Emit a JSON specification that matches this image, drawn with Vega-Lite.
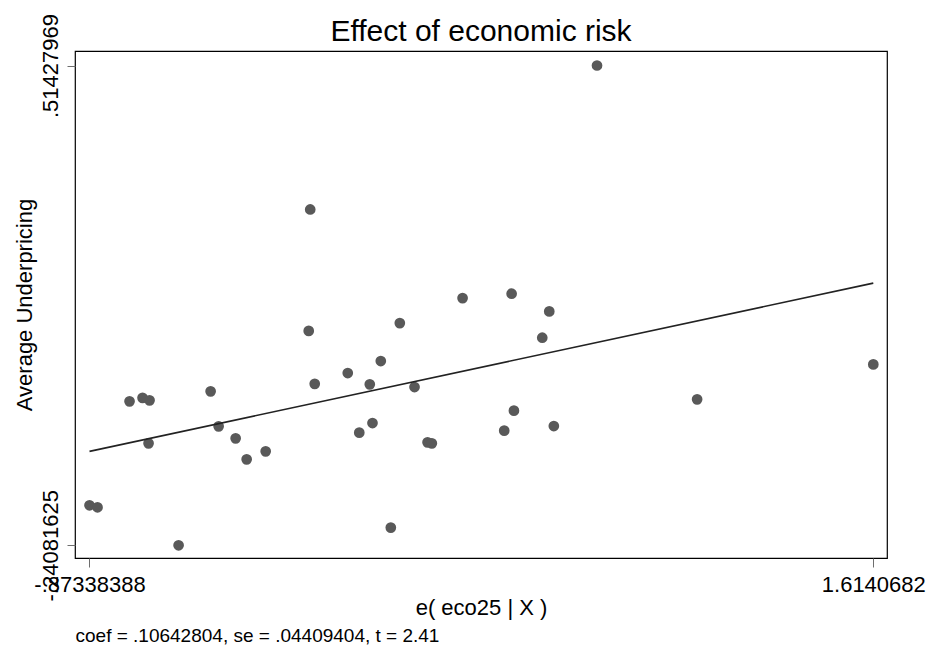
{
  "$schema": "https://vega.github.io/schema/vega-lite/v6.json",
  "width": 812,
  "height": 507,
  "autosize": {"type": "none"},
  "padding": {"left": 75, "top": 51, "right": 45, "bottom": 89},
  "background": "white",
  "config": {
    "font": "Liberation Sans",
    "view": {"stroke": "black", "strokeWidth": 1.2}
  },
  "title": {
    "text": "Effect of economic risk",
    "orient": "top",
    "anchor": "middle",
    "frame": "group",
    "fontSize": 30,
    "fontWeight": "normal",
    "color": "black",
    "baseline": "alphabetic",
    "offset": -57
  },
  "datasets": {
    "points": [
      {"x": -0.87338388, "y": -0.17788},
      {"x": -0.84797, "y": -0.18103},
      {"x": -0.59064, "y": -0.24081625},
      {"x": -0.74631, "y": -0.01428},
      {"x": -0.70501, "y": -0.00878},
      {"x": -0.68277, "y": -0.01271},
      {"x": -0.68595, "y": -0.08035},
      {"x": -0.48899, "y": 0.00145},
      {"x": -0.46358, "y": -0.05361},
      {"x": -0.40957, "y": -0.07249},
      {"x": -0.37462, "y": -0.10552},
      {"x": -0.31427, "y": -0.09294},
      {"x": -0.1729, "y": 0.28775},
      {"x": -0.17767, "y": 0.09662},
      {"x": -0.15861, "y": 0.01325},
      {"x": -0.05377, "y": 0.03024},
      {"x": -0.01724, "y": -0.06352},
      {"x": 0.01612, "y": 0.01246},
      {"x": 0.02469, "y": -0.04842},
      {"x": 0.05107, "y": 0.04911},
      {"x": 0.11143, "y": 0.10889},
      {"x": 0.08284, "y": -0.21297},
      {"x": 0.15813, "y": 0.00821},
      {"x": 0.19943, "y": -0.07878},
      {"x": 0.21309, "y": -0.08035},
      {"x": 0.31062, "y": 0.14822},
      {"x": 0.44276, "y": -0.06037},
      {"x": 0.46627, "y": 0.15514},
      {"x": 0.47357, "y": -0.02891},
      {"x": 0.58572, "y": 0.1273},
      {"x": 0.56348, "y": 0.08592},
      {"x": 0.60025, "y": -0.05313},
      {"x": 0.73726, "y": 0.51427969},
      {"x": 1.05494, "y": -0.01113},
      {"x": 1.6140682, "y": 0.04392}
    ],
    "fit": [
      {"x": -0.87338388, "y": -0.09295},
      {"x": 1.6140682, "y": 0.17178}
    ]
  },
  "layer": [
    {
      "data": {"name": "points"},
      "mark": {"type": "circle", "size": 115, "opacity": 1, "color": "#595959"},
      "encoding": {
        "x": {
          "field": "x",
          "type": "quantitative",
          "scale": {"domain": [-0.9194, 1.65755], "nice": false, "zero": false},
          "axis": {
            "values": [-0.87338388, 1.6140682],
            "labelExpr": "datum.value < 0 ? '-.87338388' : '1.6140682'",
            "grid": false,
            "domain": false,
            "tickSize": 9,
            "tickColor": "#6e6e6e",
            "tickWidth": 1,
            "labelFontSize": 22,
            "labelColor": "black",
            "labelPadding": 7,
            "labelFlush": false,
            "labelOverlap": false,
            "title": "e( eco25 | X )",
            "titleFontSize": 22,
            "titleFontWeight": "normal",
            "titleColor": "black",
            "titlePadding": 2
          }
        },
        "y": {
          "field": "y",
          "type": "quantitative",
          "scale": {"domain": [-0.2608, 0.5371], "nice": false, "zero": false},
          "axis": {
            "values": [-0.24081625, 0.51427969],
            "labelExpr": "datum.value < 0 ? '-.24081625' : '.51427969'",
            "labelAngle": -90,
            "labelAlign": "center",
            "labelBaseline": "bottom",
            "grid": false,
            "domain": false,
            "tickSize": 8,
            "tickColor": "#6e6e6e",
            "tickWidth": 1,
            "labelFontSize": 22,
            "labelColor": "black",
            "labelPadding": 5,
            "labelFlush": false,
            "labelOverlap": false,
            "title": "Average Underpricing",
            "titleFontSize": 22,
            "titleFontWeight": "normal",
            "titleColor": "black",
            "titlePadding": 3
          }
        }
      }
    },
    {
      "data": {"name": "fit"},
      "mark": {"type": "line", "color": "#222222", "strokeWidth": 1.6},
      "encoding": {
        "x": {
          "field": "x",
          "type": "quantitative",
          "scale": {"domain": [-0.9194, 1.65755], "nice": false, "zero": false},
          "axis": {
            "orient": "bottom",
            "title": "coef = .10642804, se = .04409404, t = 2.41",
            "labels": false,
            "ticks": false,
            "domain": false,
            "grid": false,
            "titleAnchor": "start",
            "titleAlign": "left",
            "titleBaseline": "alphabetic",
            "titleFontSize": 19,
            "titleFontWeight": "normal",
            "titleColor": "black",
            "titlePadding": 83
          }
        },
        "y": {"field": "y", "type": "quantitative"}
      }
    }
  ],
  "resolve": {"axis": {"x": "independent"}}
}
